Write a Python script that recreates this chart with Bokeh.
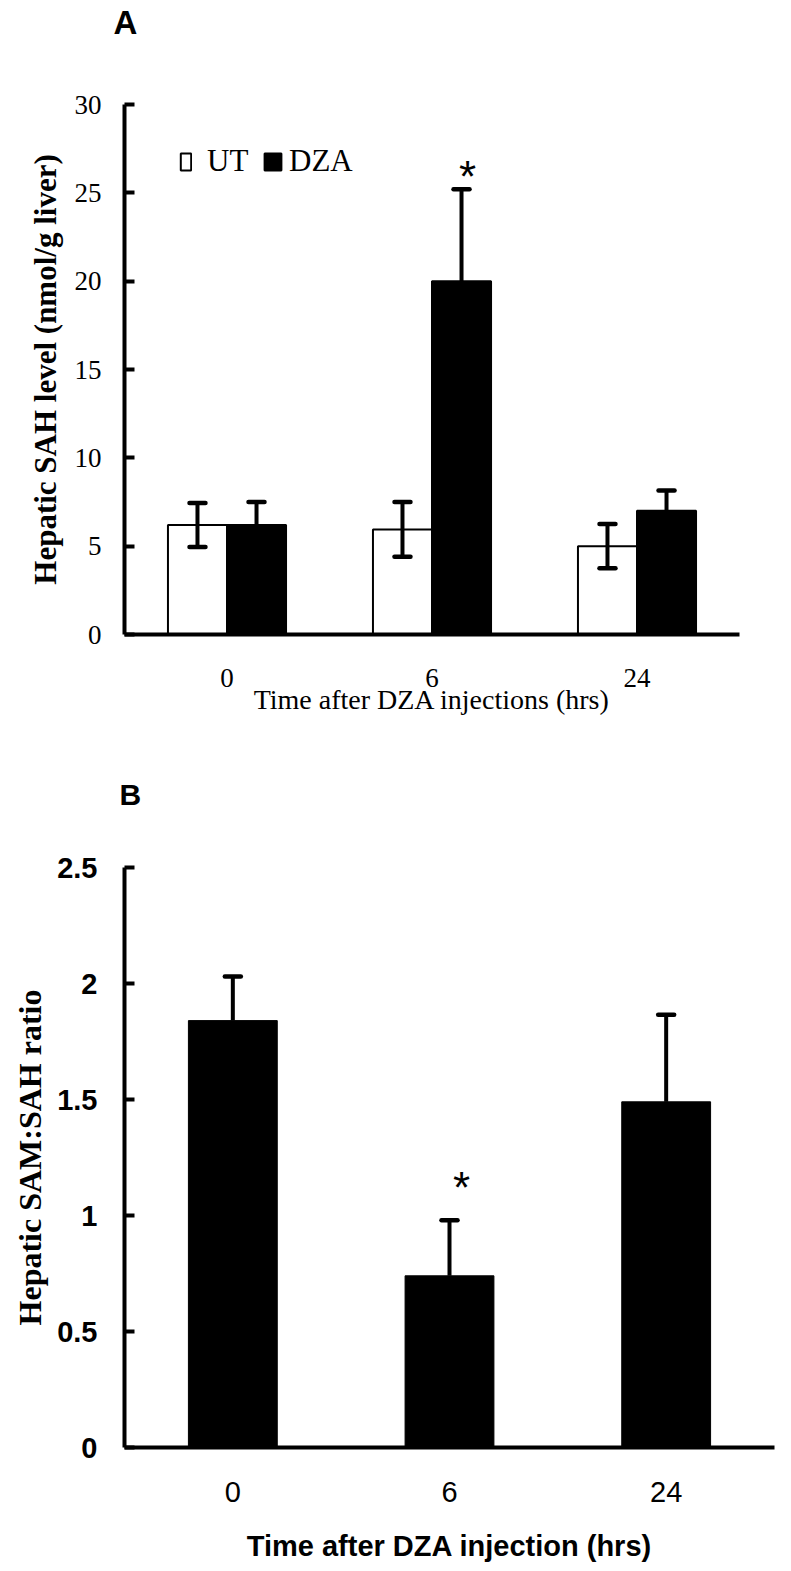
from bokeh.plotting import figure
from bokeh.models import (ColumnDataSource, Whisker, TeeHead, Legend, LegendItem, Title,
                          FactorRange, Range1d, FixedTicker, NumeralTickFormatter)
from bokeh.transform import dodge
from bokeh.layouts import column
from bokeh.embed import file_html
from bokeh.resources import INLINE
from bokeh.core.properties import value

# ---------------- data ----------------
times = ["0", "6", "24"]
groups = ["UT", "DZA"]
ut_sah = [6.2, 5.95, 5.0]
ut_sah_err = [1.25, 1.55, 1.25]
dza_sah = [6.2, 20.0, 7.0]
dza_sah_err = [1.3, 5.2, 1.15]
dza_sah_sig = ["", "*", ""]
sah_ticks = [0, 5, 10, 15, 20, 25, 30]

ratio = [1.84, 0.74, 1.49]
ratio_err = [0.19, 0.24, 0.375]
ratio_sig = ["", "*", ""]
ratio_ticks = [0, 0.5, 1, 1.5, 2, 2.5]

panel_letters = ["A", "B"]

SERIF = "Liberation Serif"
SANS = "Liberation Sans"
INK = "black"


def style_axes(p):
    p.outline_line_color = None
    p.xgrid.grid_line_color = None
    p.ygrid.grid_line_color = None
    for ax in (p.xaxis[0], p.yaxis[0]):
        ax.axis_line_width = 4
        ax.axis_line_color = INK
        ax.minor_tick_line_color = None
        ax.major_label_text_color = INK
        ax.axis_label_text_color = INK
    p.xaxis[0].major_tick_line_color = None
    y = p.yaxis[0]
    y.major_tick_in = 10
    y.major_tick_out = 0
    y.major_tick_line_width = 4
    y.major_tick_line_color = INK


# ---------------- panel A ----------------
srcA = ColumnDataSource(dict(
    time=times,
    ut=ut_sah,
    ut_lo=[m - e for m, e in zip(ut_sah, ut_sah_err)],
    ut_hi=[m + e for m, e in zip(ut_sah, ut_sah_err)],
    dza=dza_sah,
    dza_hi=[m + e for m, e in zip(dza_sah, dza_sah_err)],
    sig=dza_sah_sig,
))

pA = figure(x_range=FactorRange(factors=times), y_range=Range1d(0, max(sah_ticks)),
            frame_width=615, frame_height=530,
            min_border_left=124, min_border_right=44, min_border_top=104, min_border_bottom=94,
            output_backend="svg", toolbar_location=None)
style_axes(pA)

off = 0.144
bw = 0.288
r_ut = pA.vbar(x=dodge("time", -off, range=pA.x_range), top="ut", width=bw, source=srcA,
               fill_color="white", line_color=INK, line_width=2)
r_dza = pA.vbar(x=dodge("time", off, range=pA.x_range), top="dza", width=bw, source=srcA,
                fill_color=INK, line_color=INK, line_width=2)

wA1 = Whisker(base=dodge("time", -off, range=pA.x_range), upper="ut_hi", lower="ut_lo", source=srcA,
              line_width=4, line_color=INK,
              upper_head=TeeHead(size=16, line_width=4.5, line_cap="round"),
              lower_head=TeeHead(size=16, line_width=4.5, line_cap="round"))
wA1.level = "overlay"
wA2 = Whisker(base=dodge("time", off, range=pA.x_range), upper="dza_hi", lower="dza", source=srcA,
              line_width=4, line_color=INK,
              upper_head=TeeHead(size=16, line_width=4.5, line_cap="round"),
              lower_head=None)
wA2.level = "overlay"
pA.add_layout(wA1)
pA.add_layout(wA2)

pA.text(x=dodge("time", off, range=pA.x_range), y="dza_hi", text="sig", source=srcA,
        text_font=value(SANS), text_font_size="44px", text_align="center",
        text_baseline="alphabetic", x_offset=6, y_offset=-13, text_color=INK)

ya = pA.yaxis[0]
ya.ticker = FixedTicker(ticks=sah_ticks)
ya.major_label_text_font = SERIF
ya.major_label_text_font_size = "27px"
ya.major_label_standoff = 23
ya.axis_label = "Hepatic SAH level (nmol/g liver)"
ya.axis_label_text_font = SERIF
ya.axis_label_text_font_style = "bold"
ya.axis_label_text_font_size = "31px"
ya.axis_label_standoff = 9

xa = pA.xaxis[0]
xa.major_label_text_font = SERIF
xa.major_label_text_font_size = "27px"
xa.major_label_standoff = 28
xa.axis_label = "Time after DZA injections (hrs)"
xa.axis_label_text_font = SERIF
xa.axis_label_text_font_style = "normal"
xa.axis_label_text_font_size = "28px"
xa.axis_label_standoff = -6

leg1 = Legend(items=[LegendItem(label=groups[0], renderers=[r_ut])], location=(55, 455),
              glyph_width=13, glyph_height=21, label_standoff=15, padding=0, margin=0,
              border_line_color=None, background_fill_alpha=0,
              label_text_font=SERIF, label_text_font_size="31px", label_text_color=INK)
leg2 = Legend(items=[LegendItem(label=groups[1], renderers=[r_dza])], location=(138, 455),
              glyph_width=21, glyph_height=21, label_standoff=6, padding=0, margin=0,
              border_line_color=None, background_fill_alpha=0,
              label_text_font=SERIF, label_text_font_size="31px", label_text_color=INK)
pA.add_layout(leg1)
pA.add_layout(leg2)

pA.title = Title(text=panel_letters[0], text_font=SANS, text_font_size="33px", text_font_style="bold",
                 text_color=INK, align="left", offset=-11, standoff=0, vertical_align="top",
                 padding=dict(left=0, right=0, top=0, bottom=62))

# ---------------- panel B ----------------
srcB = ColumnDataSource(dict(
    time=times,
    r=ratio,
    r_hi=[m + e for m, e in zip(ratio, ratio_err)],
    sig=ratio_sig,
))

pB = figure(x_range=FactorRange(factors=times), y_range=Range1d(0, max(ratio_ticks)),
            frame_width=650, frame_height=580,
            min_border_left=120, min_border_right=13, min_border_top=139, min_border_bottom=116,
            output_backend="svg", toolbar_location=None)
style_axes(pB)

pB.vbar(x="time", top="r", width=0.41, source=srcB, fill_color=INK, line_color=INK, line_width=1)
wB = Whisker(base="time", upper="r_hi", lower="r", source=srcB,
             line_width=4, line_color=INK,
             upper_head=TeeHead(size=16, line_width=4.5, line_cap="round"), lower_head=None)
wB.level = "overlay"
pB.add_layout(wB)

pB.text(x="time", y="r_hi", text="sig", source=srcB,
        text_font=value(SANS), text_font_size="44px", text_align="center",
        text_baseline="alphabetic", x_offset=12, y_offset=-33, text_color=INK)

yb = pB.yaxis[0]
yb.ticker = FixedTicker(ticks=ratio_ticks)
yb.formatter = NumeralTickFormatter(format="0.[0]")
yb.major_label_text_font = SANS
yb.major_label_text_font_style = "bold"
yb.major_label_text_font_size = "29px"
yb.major_label_standoff = 27
yb.axis_label = "Hepatic SAM:SAH ratio"
yb.axis_label_text_font = SERIF
yb.axis_label_text_font_style = "bold"
yb.axis_label_text_font_size = "32px"
yb.axis_label_standoff = 6

xb = pB.xaxis[0]
xb.major_label_text_font = SANS
xb.major_label_text_font_size = "29px"
xb.major_label_standoff = 28
xb.axis_label = "Time after DZA injection (hrs)"
xb.axis_label_text_font = SANS
xb.axis_label_text_font_style = "bold"
xb.axis_label_text_font_size = "29px"
xb.axis_label_standoff = 25

pB.title = Title(text=panel_letters[1], text_font=SANS, text_font_size="30px", text_font_style="bold",
                 text_color=INK, align="left", offset=-5, standoff=0, vertical_align="top",
                 padding=dict(left=0, right=0, top=0, bottom=55))

layout = column(pA, pB, spacing=0)
open("out.html", "w").write(file_html(layout, INLINE))
